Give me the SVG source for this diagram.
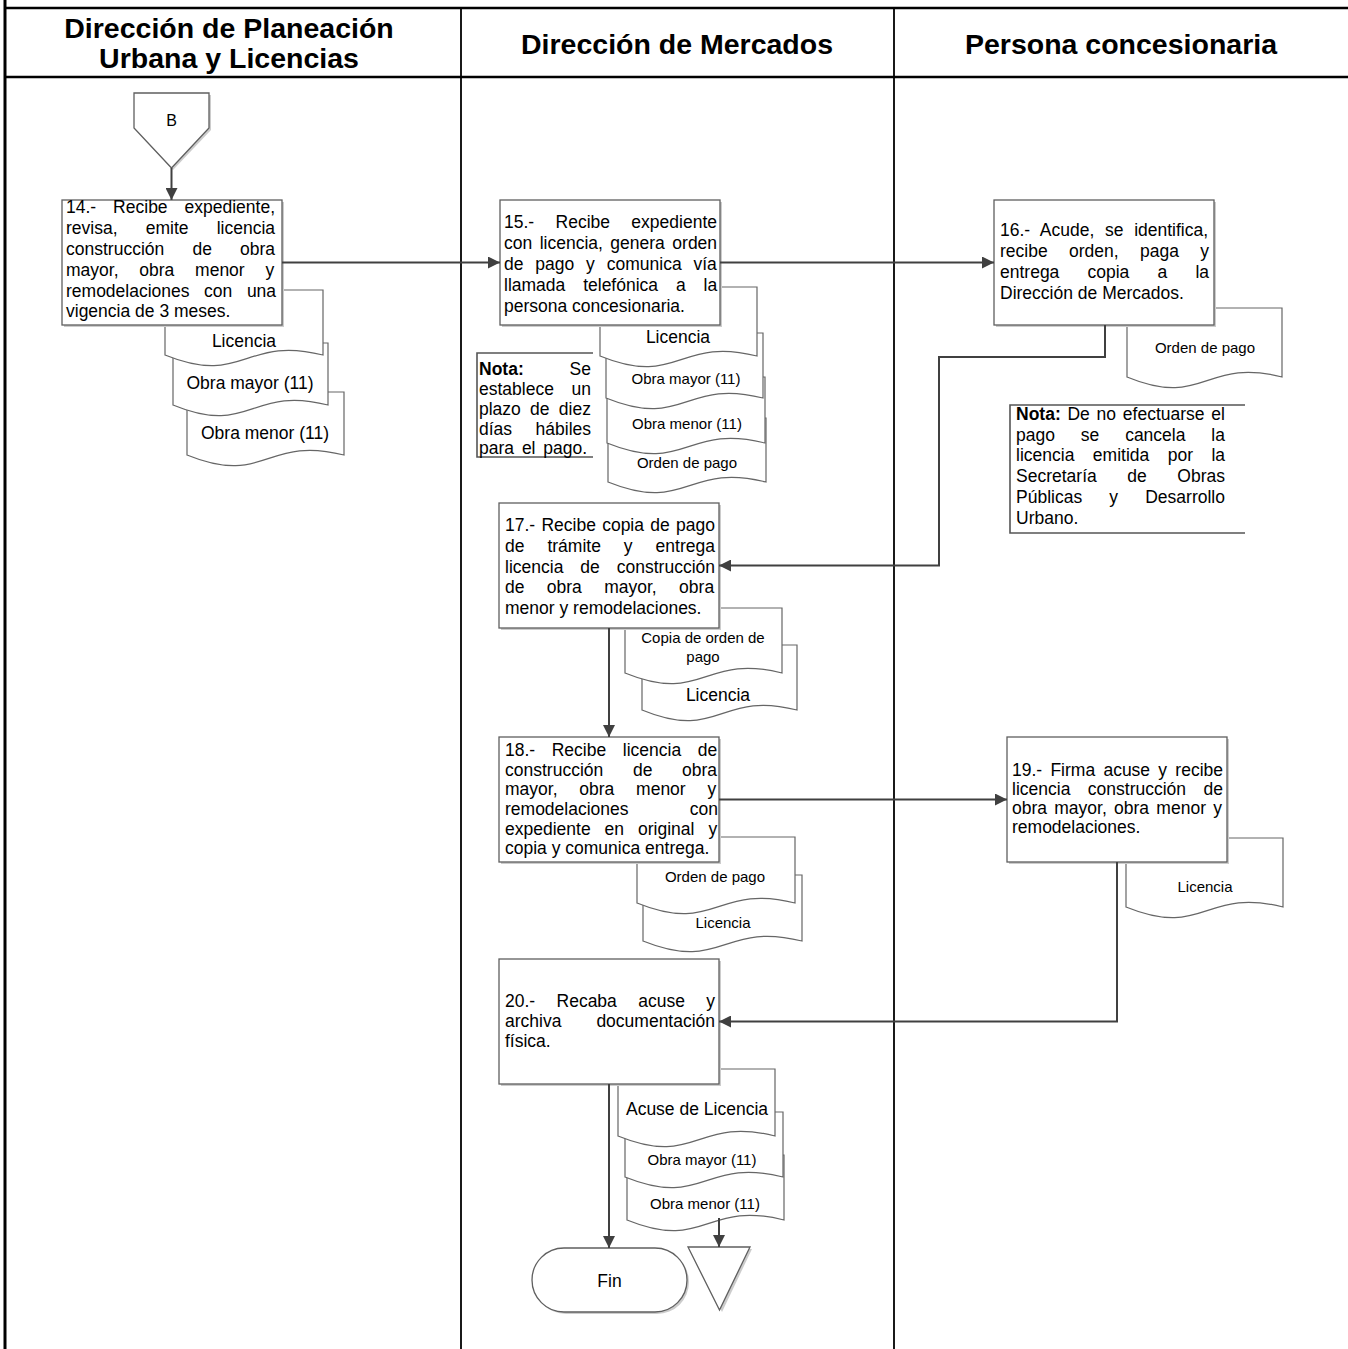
<svg xmlns="http://www.w3.org/2000/svg" width="1348" height="1349" viewBox="0 0 1348 1349">
<style>
.t{font-family:'Liberation Sans',Arial,sans-serif;font-size:17.5px;fill:#000}
.s{font-size:15px}
.m{text-anchor:middle}
.e{text-anchor:end}
.b{font-weight:bold}
.hdr{font-family:'Liberation Sans',Arial,sans-serif;font-weight:bold;font-size:28.5px;text-anchor:middle;fill:#000}
.box{fill:#fff;stroke:#5f5f5f;stroke-width:1.3}
.sh{fill:#cccccc}
.doc{fill:#fff;stroke:#666;stroke-width:1.2}
.conn{stroke:#404040;stroke-width:2;fill:none}
.note{stroke:#555;stroke-width:1.6;fill:none}
.tbl{stroke:#000;fill:none}
</style>
<defs>
<marker id="ah" markerUnits="userSpaceOnUse" markerWidth="13" markerHeight="12" refX="12" refY="6" orient="auto">
<path d="M0,0 L12,6 L0,12 z" fill="#404040"/>
</marker>
</defs>

<g id="table">
<line class="tbl" x1="5" y1="0" x2="5" y2="1349" stroke-width="3"/>
<line class="tbl" x1="5" y1="8" x2="1348" y2="8" stroke-width="2.5"/>
<line class="tbl" x1="5" y1="77" x2="1348" y2="77" stroke-width="2.5"/>
<line class="tbl" x1="461" y1="8" x2="461" y2="1349" stroke-width="1.8"/>
<line class="tbl" x1="894" y1="8" x2="894" y2="1349" stroke-width="1.8"/>
<text class="hdr" x="229" y="38">Dirección de Planeación</text>
<text class="hdr" x="229" y="68">Urbana y Licencias</text>
<text class="hdr" x="677" y="54">Dirección de Mercados</text>
<text class="hdr" x="1121" y="54">Persona concesionaria</text>
</g>

<g id="offpage-B">
<polygon class="sh" points="136,95 211,95 211,130 173,170 136,130"/>
<polygon class="box" points="134,93 209,93 209,128 171.5,168 134,128"/>
<text class="t m" x="171.5" y="126" style="font-size:16px">B</text>
</g>

<!-- Documents (back to front) -->
<g id="docs14">
<path class="doc" d="M187,392 H344 V455 C265.5,435 265.5,487 187,455 Z"/>
<text class="t m" x="265" y="439">Obra menor (11)</text>
<path class="doc" d="M173,343 H328 V405 C250.5,385 250.5,437 173,405 Z"/>
<text class="t m" x="250" y="389">Obra mayor (11)</text>
<path class="doc" d="M165,290 H323 V355 C244,335 244,387 165,355 Z"/>
<text class="t m" x="244" y="347">Licencia</text>
</g>

<g id="docs15">
<path class="doc" d="M608,418 H766 V482 C687,462 687,514 608,482 Z"/>
<text class="t s m" x="687" y="468">Orden de pago</text>
<path class="doc" d="M607,377 H765 V443 C686,423 686,475 607,443 Z"/>
<text class="t s m" x="687" y="429">Obra menor (11)</text>
<path class="doc" d="M606,333 H763 V398 C684.5,378 684.5,430 606,398 Z"/>
<text class="t s m" x="686" y="384">Obra mayor (11)</text>
<path class="doc" d="M600,287 H757 V356 C678.5,336 678.5,388 600,356 Z"/>
<text class="t m" x="678" y="343">Licencia</text>
</g>

<g id="docs16">
<path class="doc" d="M1127,308 H1282 V377 C1204.5,357 1204.5,409 1127,377 Z"/>
<text class="t s m" x="1205" y="353">Orden de pago</text>
</g>

<g id="docs17">
<path class="doc" d="M642,645 H797 V710 C719.5,690 719.5,742 642,710 Z"/>
<text class="t m" x="718" y="701">Licencia</text>
<path class="doc" d="M625,608 H782 V673 C703.5,653 703.5,705 625,673 Z"/>
<text class="t s m" x="703" y="643">Copia de orden de</text>
<text class="t s m" x="703" y="662">pago</text>
</g>

<g id="docs18">
<path class="doc" d="M643,875 H802 V941 C722.5,921 722.5,973 643,941 Z"/>
<text class="t s m" x="723" y="928">Licencia</text>
<path class="doc" d="M637,837 H795 V903 C716,883 716,935 637,903 Z"/>
<text class="t s m" x="715" y="882">Orden de pago</text>
</g>

<g id="docs19">
<path class="doc" d="M1126,838 H1283 V907 C1204.5,887 1204.5,939 1126,907 Z"/>
<text class="t s m" x="1205" y="892">Licencia</text>
</g>

<g id="docs20">
<path class="doc" d="M627,1155 H784 V1220 C705.5,1200 705.5,1252 627,1220 Z"/>
<text class="t s m" x="705" y="1209">Obra menor (11)</text>
<path class="doc" d="M625,1112 H783 V1177 C704,1157 704,1209 625,1177 Z"/>
<text class="t s m" x="702" y="1165">Obra mayor (11)</text>
<path class="doc" d="M618,1069 H775 V1136 C696.5,1116 696.5,1168 618,1136 Z"/>
<text class="t m" x="697" y="1115">Acuse de Licencia</text>
</g>

<!-- Notes -->
<g id="nota1">
<path class="note" d="M593,353 H477 V457 H593"/>
<text class="t b" x="479" y="375">Nota:</text>
<text class="t e" x="591" y="375">Se</text>
<text class="t" x="479" y="395" word-spacing="12.8">establece un</text>
<text class="t" x="479" y="415" word-spacing="4.4">plazo de diez</text>
<text class="t" x="479" y="435" word-spacing="18.6">días hábiles</text>
<text class="t" x="479" y="454" word-spacing="3">para el pago.</text>
</g>

<g id="nota2">
<path class="note" d="M1245,405 H1010 V533 H1245"/>
<text class="t" x="1016" y="420" word-spacing="1.9"><tspan class="b">Nota:</tspan> De no efectuarse el</text>
<text class="t" x="1016" y="441" word-spacing="21">pago se cancela la</text>
<text class="t" x="1016" y="461" word-spacing="13.6">licencia emitida por la</text>
<text class="t" x="1016" y="482" word-spacing="25.7">Secretaría de Obras</text>
<text class="t" x="1016" y="503" word-spacing="22.3">Públicas y Desarrollo</text>
<text class="t" x="1016" y="524">Urbano.</text>
</g>

<!-- Process boxes -->
<g id="n14">
<rect class="sh" x="64" y="202" width="220" height="125"/>
<rect class="box" x="62" y="200" width="220" height="125"/>
<text class="t" x="66" y="213" word-spacing="12.1">14.- Recibe expediente,</text>
<text class="t" x="66" y="234" word-spacing="23.3">revisa, emite licencia</text>
<text class="t" x="66" y="255" word-spacing="23.3">construcción de obra</text>
<text class="t" x="66" y="276" word-spacing="15.9">mayor, obra menor y</text>
<text class="t" x="66" y="297" word-spacing="9.7">remodelaciones con una</text>
<text class="t" x="66" y="317">vigencia de 3 meses.</text>
</g>

<g id="n15">
<rect class="sh" x="502" y="202" width="220" height="125"/>
<rect class="box" x="500" y="200" width="220" height="125"/>
<text class="t" x="504" y="228" word-spacing="16.5">15.- Recibe expediente</text>
<text class="t" x="504" y="249" word-spacing="2.6">con licencia, genera orden</text>
<text class="t" x="504" y="270" word-spacing="7">de pago y comunica vía</text>
<text class="t" x="504" y="291" word-spacing="13">llamada telefónica a la</text>
<text class="t" x="504" y="312">persona concesionaria.</text>
</g>

<g id="n16">
<rect class="sh" x="996" y="202" width="220" height="125"/>
<rect class="box" x="994" y="200" width="220" height="125"/>
<text class="t" x="1000" y="236" word-spacing="5.8">16.- Acude, se identifica,</text>
<text class="t" x="1000" y="257" word-spacing="16.5">recibe orden, paga y</text>
<text class="t" x="1000" y="278" word-spacing="23.3">entrega copia a la</text>
<text class="t" x="1000" y="299">Dirección de Mercados.</text>
</g>

<g id="n17">
<rect class="sh" x="501" y="505" width="220" height="125"/>
<rect class="box" x="499" y="503" width="220" height="125"/>
<text class="t" x="505" y="531" word-spacing="1.4">17.- Recibe copia de pago</text>
<text class="t" x="505" y="552" word-spacing="18.1">de trámite y entrega</text>
<text class="t" x="505" y="573" word-spacing="12.1">licencia de construcción</text>
<text class="t" x="505" y="593" word-spacing="17.5">de obra mayor, obra</text>
<text class="t" x="505" y="614">menor y remodelaciones.</text>
</g>

<g id="n18">
<rect class="sh" x="501" y="739" width="220" height="125"/>
<rect class="box" x="499" y="737" width="220" height="125"/>
<text class="t" x="505" y="756" word-spacing="11.7">18.- Recibe licencia de</text>
<text class="t" x="505" y="776" word-spacing="24.8">construcción de obra</text>
<text class="t" x="505" y="795" word-spacing="16.9">mayor, obra menor y</text>
<text class="t" x="505" y="815" word-spacing="56.4">remodelaciones con</text>
<text class="t" x="505" y="835" word-spacing="9.1">expediente en original y</text>
<text class="t" x="505" y="854">copia y comunica entrega.</text>
</g>

<g id="n19">
<rect class="sh" x="1009" y="739" width="220" height="125"/>
<rect class="box" x="1007" y="737" width="220" height="125"/>
<text class="t" x="1012" y="776" word-spacing="3.4">19.- Firma acuse y recibe</text>
<text class="t" x="1012" y="795" word-spacing="12.6">licencia construcción de</text>
<text class="t" x="1012" y="814" word-spacing="2.4">obra mayor, obra menor y</text>
<text class="t" x="1012" y="833">remodelaciones.</text>
</g>

<g id="n20">
<rect class="sh" x="501" y="961" width="220" height="125"/>
<rect class="box" x="499" y="959" width="220" height="125"/>
<text class="t" x="505" y="1007" word-spacing="16.5">20.- Recaba acuse y</text>
<text class="t" x="505" y="1027" word-spacing="30.1">archiva documentación</text>
<text class="t" x="505" y="1047">física.</text>
</g>

<g id="fin">
<rect class="sh" x="534" y="1250" width="155" height="64" rx="32"/>
<rect class="box" x="532" y="1248" width="155" height="64" rx="32"/>
<text class="t m" x="609.5" y="1287">Fin</text>
</g>

<g id="archivo">
<polygon class="sh" points="690,1249 752,1249 722,1312"/>
<polygon class="box" points="688,1247 750,1247 719.5,1310"/>
</g>

<g id="connectors">
<path class="conn" d="M171.5,168 V200" marker-end="url(#ah)"/>
<path class="conn" d="M282,262.5 H500" marker-end="url(#ah)"/>
<path class="conn" d="M720,262.5 H994" marker-end="url(#ah)"/>
<path class="conn" d="M1105,325 V357 H939 V565.5 H719" marker-end="url(#ah)"/>
<path class="conn" d="M609,628 V737" marker-end="url(#ah)"/>
<path class="conn" d="M719,799.5 H1007" marker-end="url(#ah)"/>
<path class="conn" d="M1117,862 V1021.5 H719" marker-end="url(#ah)"/>
<path class="conn" d="M609,1084 V1248" marker-end="url(#ah)"/>
<path class="conn" d="M719,1218 V1247" marker-end="url(#ah)"/>
</g>
</svg>
